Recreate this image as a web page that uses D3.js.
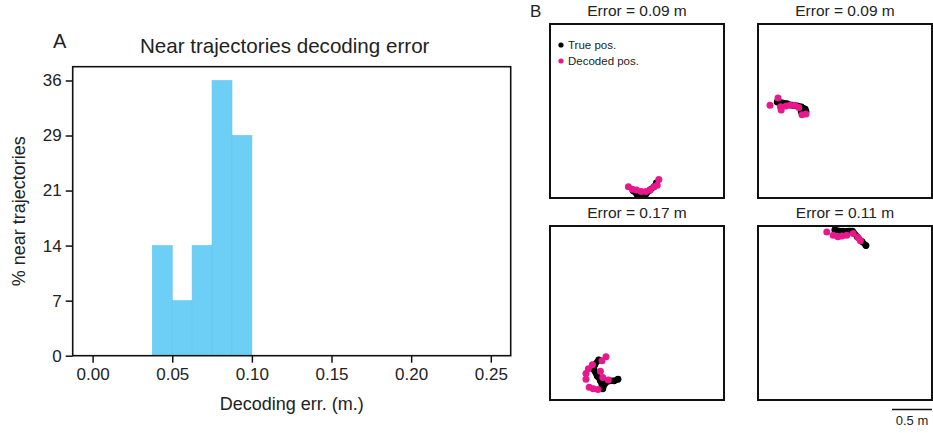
<!DOCTYPE html>
<html><head><meta charset="utf-8">
<script src="https://cdn.jsdelivr.net/npm/d3@7"></script>
<style>body{margin:0;background:#fff}svg{display:block;font-family:"Liberation Sans",Arial,sans-serif}</style>
</head><body>
<svg id="c" width="933" height="433"></svg>
<script>
// ---- Panel A data ----
const binEdges = [0.0375, 0.05, 0.0625, 0.075, 0.0875, 0.1];
const binPercents = [14.29, 7.14, 14.29, 35.71, 28.57];
const yTickValues = [0, 7.14, 14.29, 21.43, 28.57, 35.71];
const yTickLabels = ["0", "7", "14", "21", "29", "36"];
const xTickValues = [0, 0.05, 0.10, 0.15, 0.20, 0.25];

// ---- Panel B data (metres, x from left wall, y from bottom wall) ----
const panelTitles = ["Error = 0.09 m", "Error = 0.09 m", "Error = 0.17 m", "Error = 0.11 m"];
const truePos1 = [[1.04,0.09],[1.09,0.04],[1.14,0.01],[1.20,0.05],[1.25,0.10],[1.30,0.14],[1.33,0.19]];
const decPos1 = [[0.98,0.14],[1.03,0.11],[1.08,0.10],[1.14,0.08],[1.20,0.08],[1.25,0.10],[1.30,0.14],[1.34,0.16],[1.36,0.23]];
const truePos2 = [[0.24,1.20],[0.30,1.19],[0.36,1.18],[0.43,1.16],[0.49,1.15],[0.54,1.14],[0.59,1.11],[0.60,1.08],[0.54,1.08]];
const decPos2 = [[0.15,1.16],[0.25,1.25],[0.28,1.14],[0.29,1.10],[0.35,1.15],[0.40,1.16],[0.46,1.16],[0.51,1.13],[0.55,1.04],[0.60,1.05]];
const truePos3 = [[0.61,0.50],[0.56,0.44],[0.55,0.38],[0.59,0.30],[0.63,0.24],[0.65,0.19],[0.66,0.14],[0.69,0.21],[0.75,0.24],[0.80,0.24],[0.85,0.26]];
const decPos3 = [[0.70,0.54],[0.65,0.49],[0.53,0.44],[0.48,0.39],[0.45,0.33],[0.45,0.26],[0.49,0.16],[0.54,0.14],[0.60,0.13],[0.63,0.36],[0.66,0.28],[0.73,0.25]];
const truePos4 = [[0.96,2.125],[1.06,2.11],[1.18,2.11],[1.24,2.04],[1.30,1.98],[1.35,1.93]];
const decPos4 = [[0.86,2.10],[0.94,2.06],[1.00,2.04],[1.05,2.05],[1.11,2.06],[1.19,2.08],[1.25,2.03],[1.28,1.99]];
const arenaSize = 2.175;
const scaleBarLen = 0.5;

const svg = d3.select("#c");
const BLUE = "#6dcff6", MAG = "#e8178c";

// ================= Panel A =================
const A = {l:72.7, r:510.7, t:66.7, b:355.7};
const x = d3.scaleLinear().domain([-0.0125, 0.2625]).range([A.l, A.r]);
const y = d3.scaleLinear().domain([0, 37.5]).range([A.b, A.t]);

const gA = svg.append("g");
gA.selectAll("rect.bar").data(binPercents).join("rect")
  .attr("class","bar")
  .attr("x", (d,i)=>x(binEdges[i]))
  .attr("width", (d,i)=>x(binEdges[i+1])-x(binEdges[i]))
  .attr("y", d=>y(d))
  .attr("height", d=>y(0)-y(d))
  .attr("fill", BLUE)
  .attr("stroke", "#63c4ec").attr("stroke-width", 0.6);

const xAxis = d3.axisBottom(x).tickValues(xTickValues).tickFormat(d3.format(".2f")).tickSize(7).tickPadding(5);
const gx = gA.append("g").attr("transform",`translate(0,${A.b})`).call(xAxis);
const yAxis = d3.axisLeft(y).tickValues(yTickValues).tickFormat((d,i)=>yTickLabels[i]).tickSize(7).tickPadding(4);
const gy = gA.append("g").attr("transform",`translate(${A.l},0)`).call(yAxis);
[gx,gy].forEach(g=>{
  g.select(".domain").remove();
  g.selectAll(".tick line").attr("stroke","#111").attr("stroke-width",1.5);
  g.selectAll(".tick text").attr("fill","#222").style("font-size","17px").style("font-family","Liberation Sans, Arial, sans-serif");
});
gA.append("rect").attr("x",A.l).attr("y",A.t).attr("width",A.r-A.l).attr("height",A.b-A.t)
  .attr("fill","none").attr("stroke","#111").attr("stroke-width",1.6);

gA.append("text").attr("x",(A.l+A.r)/2 - 7).attr("y",53).attr("text-anchor","middle")
  .style("font-size","20.6px").attr("fill","#222").text("Near trajectories decoding error");
gA.append("text").attr("x",53).attr("y",48).style("font-size","20px").attr("fill","#222").text("A");
gA.append("text").attr("x",(A.l+A.r)/2 + 0).attr("y",410).attr("text-anchor","middle")
  .style("font-size","18px").attr("fill","#222").text("Decoding err. (m.)");
gA.append("text").attr("transform",`translate(25,${(A.t+A.b)/2}) rotate(-90)`).attr("text-anchor","middle")
  .style("font-size","18px").attr("fill","#222").text("% near trajectories");

// ================= Panel B =================
const boxes = [
  {x0:550, y0:24, t:truePos1, d:decPos1},
  {x0:758, y0:24, t:truePos2, d:decPos2},
  {x0:550, y0:226, t:truePos3, d:decPos3},
  {x0:758, y0:226, t:truePos4, d:decPos4}
];
const side = 174;
const sx = d3.scaleLinear().domain([0, arenaSize]).range([0, side]);
const sy = d3.scaleLinear().domain([0, arenaSize]).range([side, 0]);
const line = d3.line().x(d=>sx(d[0])).y(d=>sy(d[1])).curve(d3.curveCatmullRom);

svg.append("text").attr("x",530).attr("y",17).style("font-size","17px").attr("fill","#222").text("B");

boxes.forEach((b,i)=>{
  const g = svg.append("g").attr("transform",`translate(${b.x0},${b.y0})`);
  const cp = "clip"+i;
  g.append("clipPath").attr("id",cp).append("rect").attr("x",0).attr("y",0).attr("width",side).attr("height",side);
  const inner = g.append("g").attr("clip-path",`url(#${cp})`);
  inner.append("path").datum(b.t).attr("d",line).attr("fill","none").attr("stroke","#000")
    .attr("stroke-width",6).attr("stroke-linecap","round").attr("stroke-linejoin","round");
  inner.selectAll("circle.t").data(b.t).join("circle").attr("class","t")
    .attr("cx",d=>sx(d[0])).attr("cy",d=>sy(d[1])).attr("r",3.4).attr("fill","#000");
  inner.selectAll("circle.d").data(b.d).join("circle").attr("class","d")
    .attr("cx",d=>sx(d[0])).attr("cy",d=>sy(d[1])).attr("r",3.5).attr("fill",MAG);
  g.append("rect").attr("width",side).attr("height",side).attr("fill","none")
    .attr("stroke","#111").attr("stroke-width",2);
  g.append("text").attr("x",side/2).attr("y",-8).attr("text-anchor","middle")
    .style("font-size","15.5px").attr("fill","#222").text(panelTitles[i]);
});

// legend
const lg = svg.append("g");
const legendItems = [["True pos.","#000"],["Decoded pos.",MAG]];
legendItems.forEach((it,i)=>{
  lg.append("circle").attr("cx",561).attr("cy",45+i*16).attr("r",2.6).attr("fill",it[1]);
  lg.append("text").attr("x",568).attr("y",49+i*16).style("font-size","11.5px").attr("fill","#222").text(it[0]);
});

// scale bar
const sbx1 = 758 + side;
const sbx0 = sbx1 - (sx(scaleBarLen) - sx(0));
svg.append("line").attr("x1",sbx0).attr("x2",sbx1).attr("y1",409.5).attr("y2",409.5)
  .attr("stroke","#111").attr("stroke-width",1.3);
svg.append("text").attr("x",(sbx0+sbx1)/2).attr("y",425).attr("text-anchor","middle")
  .style("font-size","13px").attr("fill","#222").text("0.5 m");
</script>
</body></html>
